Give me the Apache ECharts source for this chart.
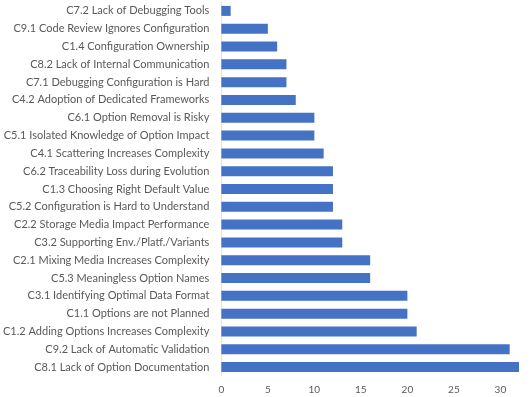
<!DOCTYPE html>
<html>
<head>
<meta charset="utf-8">
<script src="https://cdn.jsdelivr.net/npm/echarts@6/dist/echarts.min.js"></script>
<style>
  html, body { margin: 0; padding: 0; background: #fff; }
  #chart { width: 531px; height: 397px; }
</style>
</head>
<body>
<div id="chart"></div>
<script>
// categories listed bottom -> top (ECharts category y-axis starts at bottom)
const categories = [
  'C8.1 Lack of Option Documentation',
  'C9.2 Lack of Automatic Validation',
  'C1.2 Adding Options Increases Complexity',
  'C1.1 Options are not Planned',
  'C3.1 Identifying Optimal Data Format',
  'C5.3 Meaningless Option Names',
  'C2.1 Mixing Media Increases Complexity',
  'C3.2 Supporting Env./Platf./Variants',
  'C2.2 Storage Media Impact Performance',
  'C5.2 Configuration is Hard to Understand',
  'C1.3 Choosing Right Default Value',
  'C6.2 Traceability Loss during Evolution',
  'C4.1 Scattering Increases Complexity',
  'C5.1 Isolated Knowledge of Option Impact',
  'C6.1 Option Removal is Risky',
  'C4.2 Adoption of Dedicated Frameworks',
  'C7.1 Debugging Configuration is Hard',
  'C8.2 Lack of Internal Communication',
  'C1.4 Configuration Ownership',
  'C9.1 Code Review Ignores Configuration',
  'C7.2 Lack of Debugging Tools'
]
const counts = [32, 31, 21, 20, 20, 16, 16, 13, 13, 12, 12, 12, 11, 10, 10, 8, 7, 7, 6, 5, 1]

const xMin = 0
const xMax = 32
const xStep = 5

const chart = echarts.init(document.getElementById('chart'))

const labelFont = 'Lato, "Open Sans", sans-serif'

chart.setOption({
  animation: false,
  grid: {
    left: 219,
    right: 12,
    top: 2,
    bottom: 21
  },
  xAxis: {
    type: 'value',
    min: xMin,
    max: xMax,
    interval: xStep,
    axisLine: { show: false },
    axisTick: { show: false },
    splitLine: { show: false },
    axisLabel: {
      color: '#595959',
      fontSize: 10,
      fontFamily: labelFont,
      margin: 9,
      showMaxLabel: false
    }
  },
  yAxis: {
    type: 'category',
    data: categories,
    axisLine: { show: true, lineStyle: { color: '#e3e3e3', width: 1 } },
    axisTick: { show: false },
    axisLabel: {
      color: '#595959',
      fontSize: 11,
      fontFamily: labelFont,
      margin: 12
    }
  },
  series: [
    {
      type: 'bar',
      data: counts,
      barWidth: 10,
      itemStyle: { color: '#4472C4' }
    }
  ]
})
</script>
</body>
</html>
